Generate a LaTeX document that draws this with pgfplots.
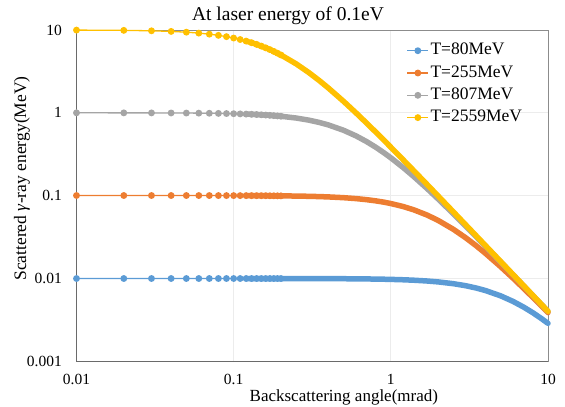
\documentclass[border=0pt]{standalone}
\usepackage{pgfplots}
\pgfplotsset{compat=1.18}
\usepackage{fontspec}
\setmainfont{Liberation Serif}
\definecolor{cBlue}{HTML}{5B9BD5}
\definecolor{cOrange}{HTML}{ED7D31}
\definecolor{cGray}{HTML}{A5A5A5}
\definecolor{cYellow}{HTML}{FFC000}
\definecolor{boxgray}{HTML}{8C8C8C}
\definecolor{axdark}{HTML}{6A6A6A}
\definecolor{gridc}{HTML}{ECECEC}
\begin{document}
\begin{tikzpicture}[x=1pt,y=1pt]
\useasboundingbox (0,0) rectangle (565,407);
\begin{axis}[
  at={(76.5pt,46pt)}, anchor=south west, scale only axis,
  width=471.5pt, height=331pt,
  xmode=log, ymode=log,
  xmin=0.01, xmax=10, ymin=0.001, ymax=10,
  xtick={0.01,0.1,1,10}, xticklabels={0.01,0.1,1,10},
  ytick={0.001,0.01,0.1,1,10}, yticklabels={0.001,0.01,0.1,1,10},
  minor xtick={}, minor ytick={},
  tick style={draw=none},
  /pgf/number format/assume math mode=true,
  ticklabel style={font=\fontsize{15.5}{18}\selectfont},
  xticklabel style={anchor=north, inner sep=0pt, yshift=-13pt},
  yticklabel style={anchor=east, inner sep=0pt, xshift=-14.5pt},
  grid=major, major grid style={color=gridc, line width=0.8pt},
  axis line style={color=boxgray, line width=0.8pt},
  clip=false,
  title={At laser energy of 0.1eV},
  title style={at={(axis description cs:0.4486,1.012)}, anchor=base, font=\fontsize{19.5}{22}\selectfont, inner sep=0pt},
  xlabel={Backscattering angle(mrad)},
  xlabel style={at={(axis description cs:0.567,-0.121)}, anchor=base, font=\fontsize{17}{20}\selectfont, inner sep=0pt},
  ylabel={Scattered \textit{γ}-ray energy(MeV)},
  ylabel style={at={(axis description cs:-0.1156,0.5514)}, anchor=center, font=\fontsize{17.5}{20}\selectfont, inner sep=0pt},
  legend style={at={(axis description cs:0.6999,0.9717)}, anchor=north west, draw=none, fill=none, inner sep=0pt,
    font=\fontsize{17.5}{21}\selectfont, row sep=0pt, column sep=0pt,
    nodes={text height=12.5pt, text depth=4pt, inner ysep=2.9pt, inner xsep=1.5pt}},
  legend cell align=left,
  legend image code/.code={\draw[mark repeat=2,mark phase=2,#1] plot coordinates {(0pt,0pt) (10.5pt,0pt) (21pt,0pt)};},
  every axis plot/.append style={line width=1.3pt, mark=*, mark size=2.75pt, mark options={solid, line width=0pt}},
]
\draw[color=axdark, line width=1pt] (rel axis cs:0,1) -- (rel axis cs:0,0) -- (rel axis cs:1,0);
% ---------- T=80MeV
\addplot[color=cBlue, mark options={fill=cBlue, draw=cBlue}] coordinates {
(0.01,0.00993)(0.02,0.00993)(0.03,0.00993)(0.04,0.00993)(0.05,0.00993)(0.06,0.00993)(0.07,0.00993)(0.08,0.00993)(0.09,0.00993)(0.10,0.00993)
(0.11,0.00993)(0.12,0.00993)(0.13,0.00992)(0.14,0.00992)(0.15,0.00992)(0.16,0.00992)(0.17,0.00992)(0.18,0.00992)(0.19,0.00992)(0.20,0.00992)};
\addlegendentry{T=80MeV}
\addplot[forget plot, color=cBlue, line width=5.5pt, mark=none, line cap=round, line join=round] coordinates {
(0.12,0.009926)(0.14,0.009925)(0.17,0.009923)(0.2,0.009920)(0.25,0.009915)(0.3,0.009908)(0.35,0.009900)(0.4,0.009891)
(0.5,0.009869)(0.6,0.009842)(0.7,0.009811)(0.8,0.009775)(0.9,0.009734)(1,0.009689)(1.2,0.009587)(1.4,0.009469)
(1.7,0.009265)(2,0.009033)(2.5,0.008596)(3,0.008117)(3.5,0.007614)(4,0.007108)(5,0.006127)(6,0.005244)
(7,0.004480)(8,0.003836)(9,0.003298)(10,0.002851)};
% ---------- T=255MeV
\addplot[color=cOrange, mark options={fill=cOrange, draw=cOrange}] coordinates {
(0.01,0.1)(0.02,0.09999)(0.03,0.09998)(0.04,0.09996)(0.05,0.09994)(0.06,0.09991)(0.07,0.09988)(0.08,0.09984)(0.09,0.09980)(0.10,0.09975)
(0.11,0.09970)(0.12,0.09964)(0.13,0.09958)(0.14,0.09951)(0.15,0.09944)(0.16,0.09936)(0.17,0.09928)(0.18,0.09920)(0.19,0.09911)(0.20,0.09901)};
\addlegendentry{T=255MeV}
\addplot[forget plot, color=cOrange, line width=5.5pt, mark=none, line cap=round, line join=round] coordinates {
(0.12,0.09964)(0.14,0.09951)(0.17,0.09928)(0.2,0.09901)(0.25,0.09846)(0.3,0.09780)(0.35,0.09703)(0.4,0.09615)
(0.5,0.09412)(0.6,0.09174)(0.7,0.08909)(0.8,0.08621)(0.9,0.08316)(1,0.08)(1.2,0.07353)(1.4,0.06711)
(1.7,0.05806)(2,0.05)(2.5,0.03902)(3,0.03077)(3.5,0.02462)(4,0.02)(5,0.01379)(6,0.01)
(7,0.007547)(8,0.005882)(9,0.004706)(10,0.003846)};
% ---------- T=807MeV
\addplot[color=cGray, mark options={fill=cGray, draw=cGray}] coordinates {
(0.01,0.99775)(0.02,0.99700)(0.03,0.99576)(0.04,0.99403)(0.05,0.99181)(0.06,0.98911)(0.07,0.98593)(0.08,0.98230)(0.09,0.97821)(0.10,0.97368)
(0.11,0.96873)(0.12,0.96336)(0.13,0.95759)(0.14,0.95143)(0.15,0.94491)(0.16,0.93803)(0.17,0.93082)(0.18,0.92330)(0.19,0.91547)(0.20,0.90735)};
\addlegendentry{T=807MeV}
\addplot[forget plot, color=cGray, line width=5.5pt, mark=none, line cap=round, line join=round] coordinates {
(0.12,0.96336)(0.14,0.95143)(0.17,0.93082)(0.2,0.90735)(0.25,0.86327)(0.3,0.81486)(0.35,0.76422)(0.4,0.71309)
(0.5,0.61442)(0.6,0.52555)(0.7,0.44882)(0.8,0.38411)(0.9,0.33016)(1,0.28537)(1.2,0.21715)(1.4,0.16931)
(1.7,0.12146)(2,0.09082)(2.5,0.06009)(3,0.04251)(3.5,0.03159)(4,0.02437)(5,0.015734)(6,0.010979)
(7,0.008090)(8,0.006206)(9,0.004910)(10,0.003981)};
% ---------- T=2559MeV
\addplot[color=cYellow, mark options={fill=cYellow, draw=cYellow}] coordinates {
(0.01,9.9750)(0.02,9.9007)(0.03,9.7792)(0.04,9.6141)(0.05,9.4098)(0.06,9.1716)(0.07,8.9053)(0.08,8.6165)(0.09,8.3111)(0.10,7.9944)
(0.11,7.6713)(0.12,7.3461)(0.13,7.0226)(0.14,6.7036)(0.15,6.3919)(0.16,6.0892)(0.17,5.7970)(0.18,5.5162)(0.19,5.2475)(0.20,4.9912)};
\addlegendentry{T=2559MeV}
\addplot[forget plot, color=cYellow, line width=5.5pt, mark=none, line cap=round, line join=round] coordinates {
(0.12,7.3461)(0.14,6.7036)(0.17,5.7970)(0.2,4.9912)(0.25,3.8941)(0.3,3.0694)(0.35,2.4550)(0.4,1.9944)
(0.5,1.3751)(0.6,0.99684)(0.7,0.75227)(0.8,0.58629)(0.9,0.46901)(1,0.38332)(1.2,0.26935)(1.4,0.19931)
(1.7,0.13605)(2,0.098666)(2.5,0.063371)(3,0.044093)(3.5,0.032433)(4,0.024850)(5,0.015918)(6,0.011060)
(7,0.008128)(8,0.006224)(9,0.004919)(10,0.003984)};
\end{axis}
\end{tikzpicture}
\end{document}
